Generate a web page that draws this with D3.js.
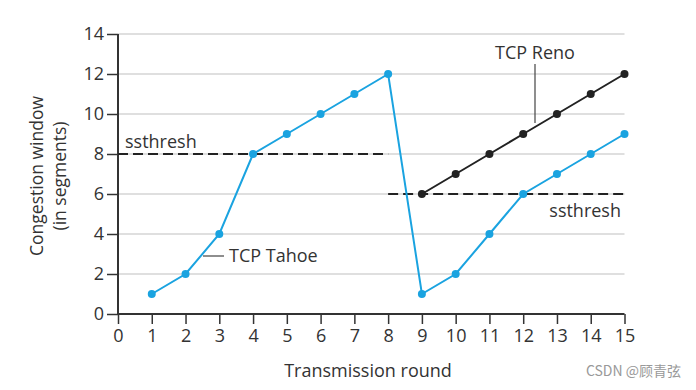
<!DOCTYPE html>
<html><head><meta charset="utf-8">
<script src="https://cdn.jsdelivr.net/npm/d3@7"></script>
<style>
body{margin:0;background:#fff;}
svg{display:block;font-family:"Open Sans","Noto Sans",sans-serif;}
</style></head>
<body>
<svg id="c" width="696" height="390"></svg>
<script>
const rounds = [1,2,3,4,5,6,7,8,9,10,11,12,13,14,15];
const tahoe = [1,2,4,8,9,10,11,12,1,2,4,6,7,8,9];
const renoRounds = [9,10,11,12,13,14,15];
const reno = [6,7,8,9,10,11,12];
const xTicks = [0,1,2,3,4,5,6,7,8,9,10,11,12,13,14,15];
const yTicks = [0,2,4,6,8,10,12,14];
const ssthresh1 = {from:0, to:8, value:8};
const ssthresh2 = {from:8, to:15, value:6};

const svg = d3.select("#c");
const x = d3.scaleLinear().domain([0,15]).range([118,624.5]);
const y = d3.scaleLinear().domain([0,14]).range([314,34]);
const blue = "#1aa3e0", dark = "#222", axisC = "#333";

// grid
svg.append("g").selectAll("line").data(yTicks.filter(d=>d>0)).join("line")
  .attr("x1",x(0)).attr("x2",x(15)).attr("y1",d=>y(d)).attr("y2",d=>y(d))
  .attr("stroke","#d4d4d4").attr("stroke-width",1.5);

// axes
const yAxis = d3.axisLeft(y).tickValues(yTicks).tickSize(11).tickPadding(3);
const gy = svg.append("g").attr("transform",`translate(${x(0)},0)`).call(yAxis);
const xAxis = d3.axisBottom(x).tickValues(xTicks).tickSize(10).tickPadding(5);
const gx = svg.append("g").attr("transform",`translate(0,${y(0)})`).call(xAxis);
[gx,gy].forEach(g=>{
  g.select(".domain").attr("stroke",axisC).attr("stroke-width",2);
  g.selectAll(".tick line").attr("stroke",axisC).attr("stroke-width",1.5);
  g.selectAll(".tick text").attr("fill","#333").attr("font-size",18).attr("font-family","Open Sans, sans-serif");
});
gy.select(".domain").attr("d",`M0,${y(0)}V${y(14)}`);
gx.select(".domain").attr("d",`M${x(0)},0H${x(15)}`);

// ssthresh lines
[ssthresh1,ssthresh2].forEach(s=>{
  svg.append("line").attr("x1",x(s.from)).attr("x2",x(s.to))
    .attr("y1",y(s.value)).attr("y2",y(s.value))
    .attr("stroke","#222").attr("stroke-width",1.8).attr("stroke-dasharray","10,5");
});

// lines
const line = d3.line().x(d=>x(d[0])).y(d=>y(d[1]));
const tData = rounds.map((r,i)=>[r,tahoe[i]]);
const rData = renoRounds.map((r,i)=>[r,reno[i]]);
svg.append("path").datum(tData).attr("d",line).attr("fill","none").attr("stroke",blue).attr("stroke-width",2);
svg.append("path").datum(rData).attr("d",line).attr("fill","none").attr("stroke",dark).attr("stroke-width",2);
svg.append("g").selectAll("circle").data(tData).join("circle")
  .attr("cx",d=>x(d[0])).attr("cy",d=>y(d[1])).attr("r",4).attr("fill",blue);
svg.append("g").selectAll("circle").data(rData).join("circle")
  .attr("cx",d=>x(d[0])).attr("cy",d=>y(d[1])).attr("r",4).attr("fill",dark);

// labels
const txt = (t,xx,yy,opts={})=>svg.append("text").text(t).attr("x",xx).attr("y",yy)
  .attr("font-size",opts.size||18).attr("fill",opts.fill||"#333")
  .attr("text-anchor",opts.anchor||"start");
txt("ssthresh",125,148);
txt("ssthresh",621,217,{anchor:"end"});
txt("TCP Reno",535,59,{anchor:"middle"});
txt("TCP Tahoe",229,262);
txt("Transmission round",368,377,{anchor:"middle"});
// leader lines
svg.append("line").attr("x1",535).attr("x2",535).attr("y1",64).attr("y2",123)
  .attr("stroke","#444").attr("stroke-width",1.2);
svg.append("line").attr("x1",203).attr("x2",224).attr("y1",256).attr("y2",256)
  .attr("stroke","#444").attr("stroke-width",1.2);

// y title
const yt = svg.append("text").attr("transform","translate(43,176) rotate(-90)")
  .attr("text-anchor","middle").attr("font-size",17.5).attr("fill","#333");
yt.append("tspan").attr("x",0).attr("dy",0).text("Congestion window");
yt.append("tspan").attr("x",0).attr("dy",23).text("(in segments)");

// watermark
svg.append("text").text("CSDN @顾青弦").attr("x",681).attr("y",376).attr("text-anchor","end")
  .attr("font-size",14).attr("fill","#999").attr("font-family","Noto Sans CJK SC, sans-serif");
</script>
</body></html>
